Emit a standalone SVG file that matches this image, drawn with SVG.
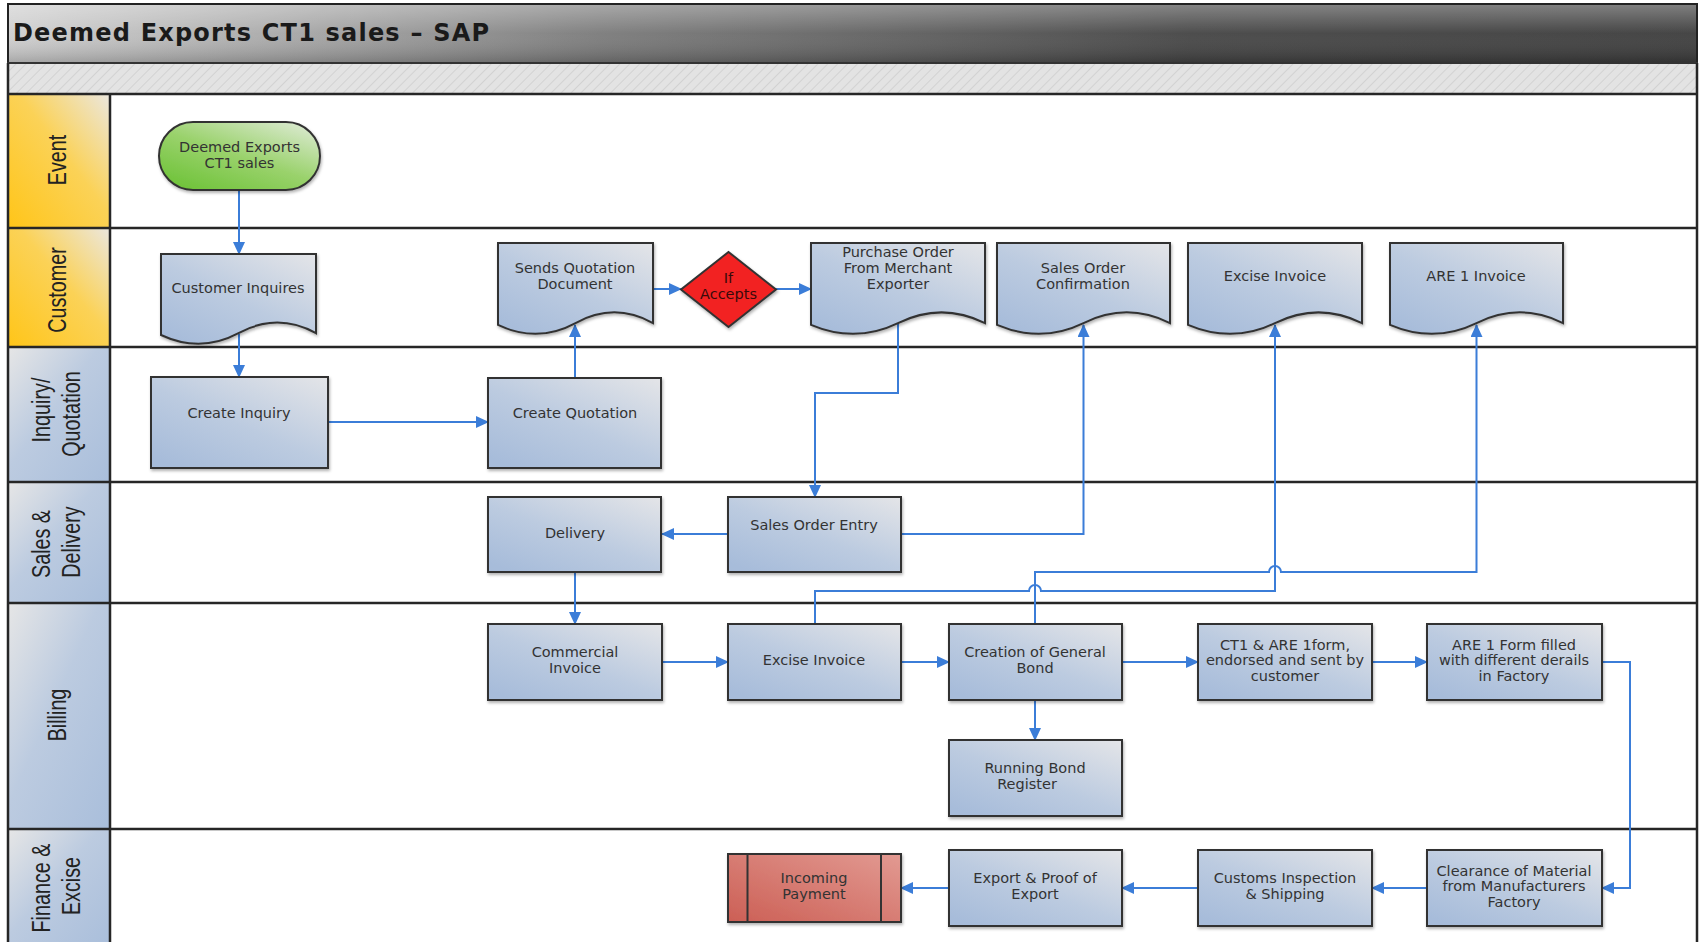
<svg xmlns="http://www.w3.org/2000/svg" width="1700" height="942" viewBox="0 0 1700 942">
<defs>
<linearGradient id="gTitleH" x1="0" y1="0" x2="1" y2="0">
<stop offset="0" stop-color="#cfcfcf"/>
<stop offset="0.35" stop-color="#7a7a7a"/>
<stop offset="0.7" stop-color="#444"/>
<stop offset="1" stop-color="#3c3c3c"/>
</linearGradient>
<linearGradient id="gTitleV" x1="0" y1="0" x2="0" y2="1">
<stop offset="0" stop-color="#fff" stop-opacity="0.35"/>
<stop offset="0.5" stop-color="#fff" stop-opacity="0.05"/>
<stop offset="1" stop-color="#000" stop-opacity="0.2"/>
</linearGradient>
<pattern id="hatch" width="7" height="7" patternUnits="userSpaceOnUse" patternTransform="rotate(45)">
<rect width="7" height="7" fill="#e3e3e3"/>
<line x1="0" y1="0" x2="0" y2="7" stroke="#d2d2d2" stroke-width="2"/>
</pattern>
<linearGradient id="gYel" x1="0" y1="1" x2="1" y2="0">
<stop offset="0" stop-color="#ffc518"/>
<stop offset="0.55" stop-color="#fbd257"/>
<stop offset="1" stop-color="#ebe7df"/>
</linearGradient>
<linearGradient id="gBlueHdr" x1="0" y1="0" x2="1" y2="1">
<stop offset="0" stop-color="#e6e6e6"/>
<stop offset="0.45" stop-color="#bccbe0"/>
<stop offset="1" stop-color="#a9bedb"/>
</linearGradient>
<linearGradient id="gBox" x1="1" y1="0" x2="0.15" y2="1">
<stop offset="0" stop-color="#e4e5e8"/>
<stop offset="0.55" stop-color="#bccbe0"/>
<stop offset="1" stop-color="#a7bcda"/>
</linearGradient>
<linearGradient id="gGreen" x1="0.1" y1="1" x2="0.9" y2="0">
<stop offset="0" stop-color="#6cc236"/>
<stop offset="0.5" stop-color="#9ad26c"/>
<stop offset="1" stop-color="#dcead2"/>
</linearGradient>
<linearGradient id="gRed" x1="0" y1="1" x2="1" y2="0">
<stop offset="0" stop-color="#cc5f55"/>
<stop offset="1" stop-color="#e29a92"/>
</linearGradient>
<filter id="sh" x="-10%" y="-10%" width="120%" height="130%">
<feDropShadow dx="1" dy="2" stdDeviation="1.5" flood-color="#000" flood-opacity="0.3"/>
</filter>
<marker id="arr" markerUnits="userSpaceOnUse" markerWidth="13" markerHeight="12" refX="12" refY="6" orient="auto">
<path d="M0,0 L13,6 L0,12 Z" fill="#3b7dd8"/>
</marker>
<style>
.lane{stroke:#262626;stroke-width:2.5;fill:none}
.box{fill:url(#gBox);stroke:#333;stroke-width:2;filter:url(#sh)}
.t{font-family:"DejaVu Sans","Liberation Sans",sans-serif;font-size:14.5px;fill:#333;text-anchor:middle}
.h{font-family:"Liberation Sans",Arial,sans-serif;font-size:26px;fill:#222;text-anchor:middle}
.c{stroke:#3b7dd8;stroke-width:2;fill:none;marker-end:url(#arr)}
</style>
</defs>

<rect x="0" y="0" width="1700" height="942" fill="#fff"/>

<g id="title">
<rect x="8" y="4" width="1689" height="59" fill="url(#gTitleH)"/>
<rect x="8" y="4" width="1689" height="59" fill="url(#gTitleV)" stroke="#222" stroke-width="2"/>
<text x="13" y="41" font-family="'DejaVu Sans','Liberation Sans',sans-serif" font-weight="bold" font-size="24" fill="#1a1a1a" textLength="476" lengthAdjust="spacing">Deemed Exports CT1 sales – SAP</text>
<rect x="8" y="63" width="1689" height="31" fill="url(#hatch)" stroke="#333" stroke-width="2"/>
</g>

<g id="lanes">
<rect x="8" y="94" width="102" height="134" fill="url(#gYel)"/>
<rect x="8" y="228" width="102" height="119" fill="url(#gYel)"/>
<rect x="8" y="347" width="102" height="135" fill="url(#gBlueHdr)"/>
<rect x="8" y="482" width="102" height="121" fill="url(#gBlueHdr)"/>
<rect x="8" y="603" width="102" height="226" fill="url(#gBlueHdr)"/>
<rect x="8" y="829" width="102" height="120" fill="url(#gBlueHdr)"/>
<path class="lane" d="M8,94 H1697 M8,228 H1697 M8,347 H1697 M8,482 H1697 M8,603 H1697 M8,829 H1697 M8,63 V950 M110,94 V950 M1697,63 V950"/>
<text class="h" transform="translate(66,160) rotate(-90) scale(0.76,1)">Event</text>
<text class="h" transform="translate(66,290) rotate(-90) scale(0.76,1)">Customer</text>
<text class="h" transform="translate(50,410) rotate(-90) scale(0.76,1)">Inquiry/</text>
<text class="h" transform="translate(80,414) rotate(-90) scale(0.76,1)">Quotation</text>
<text class="h" transform="translate(50,544) rotate(-90) scale(0.76,1)">Sales &amp;</text>
<text class="h" transform="translate(80,542) rotate(-90) scale(0.76,1)">Delivery</text>
<text class="h" transform="translate(66,715) rotate(-90) scale(0.76,1)">Billing</text>
<text class="h" transform="translate(50,888) rotate(-90) scale(0.76,1)">Finance &amp;</text>
<text class="h" transform="translate(80,886) rotate(-90) scale(0.76,1)">Excise</text>
</g>

<g id="connectors">
<path class="c" d="M239,190 V254"/>
<path class="c" d="M239,334 V377"/>
<path class="c" d="M328,422 H488"/>
<path class="c" d="M575,378 V325"/>
<path class="c" d="M653,289 H681"/>
<path class="c" d="M776,289 H811"/>
<path class="c" d="M898,323 V393 H815 V497"/>
<path class="c" d="M728,534 H662"/>
<path class="c" d="M901,534 H1083.5 V325"/>
<path class="c" d="M575,572 V624"/>
<path class="c" d="M662,662 H728"/>
<path class="c" d="M901,662 H949"/>
<path class="c" d="M1122,662 H1198"/>
<path class="c" d="M1372,662 H1427"/>
<path class="c" d="M1035,700 V740"/>
<path class="c" d="M815,624 V591 H1029 A6,6 0 0 1 1041,591 H1275 V325"/>
<path class="c" d="M1035,624 V572 H1269 A6,6 0 0 1 1281,572 H1476.5 V325"/>
<path class="c" d="M1602,662 H1630 V888 H1602"/>
<path class="c" d="M1427,888 H1372"/>
<path class="c" d="M1198,888 H1122"/>
<path class="c" d="M949,888 H901"/>
</g>

<g id="n-start">
<rect x="159" y="122" width="161" height="68" rx="34" fill="url(#gGreen)" stroke="#333" stroke-width="2" filter="url(#sh)"/>
<text class="t" x="239.5" y="152">Deemed Exports</text>
<text class="t" x="239.5" y="168">CT1 sales</text>
</g>

<g id="n-customer-inquires">
<path class="box" d="M161,254 H316 V333.2 C289.7,318.8 264.9,318.8 238.5,333.2 C212.2,347.3 187.4,347.3 161,335 Z"/>
<text class="t" x="238" y="293">Customer Inquires</text>
</g>

<g id="n-create-inquiry">
<rect class="box" x="151" y="377" width="177" height="91"/>
<text class="t" x="239" y="418">Create Inquiry</text>
</g>

<g id="n-create-quotation">
<rect class="box" x="488" y="378" width="173" height="90"/>
<text class="t" x="575" y="418">Create Quotation</text>
</g>

<g id="n-sends-quotation">
<path class="box" d="M498,243 H653 V323.1 C626.7,308.5 601.9,308.5 575.5,323.1 C549.2,337.4 524.4,337.4 498,324.9 Z"/>
<text class="t" x="575" y="273">Sends Quotation</text>
<text class="t" x="575" y="289">Document</text>
</g>

<g id="n-if-accepts">
<polygon points="728.5,252 776,289.5 728.5,327 681,289.5" fill="#f22424" stroke="#333" stroke-width="2" filter="url(#sh)"/>
<text class="t" x="728.5" y="283" style="fill:#3a0a0a">If</text>
<text class="t" x="728.5" y="299" style="fill:#3a0a0a">Accepts</text>
</g>

<g id="n-purchase-order">
<path class="box" d="M811,243 H985 V323.1 C955.4,308.5 927.6,308.5 898,323.1 C868.4,337.4 840.6,337.4 811,324.9 Z"/>
<text class="t" x="898" y="257">Purchase Order</text>
<text class="t" x="898" y="273">From Merchant</text>
<text class="t" x="898" y="289">Exporter</text>
</g>

<g id="n-sales-order-confirmation">
<path class="box" d="M997,243 H1170 V323.1 C1140.6,308.5 1112.9,308.5 1083.5,323.1 C1054.1,337.4 1026.4,337.4 997,324.9 Z"/>
<text class="t" x="1083" y="273">Sales Order</text>
<text class="t" x="1083" y="289">Confirmation</text>
</g>

<g id="n-excise-invoice-doc">
<path class="box" d="M1188,243 H1362 V323.1 C1332.4,308.5 1304.6,308.5 1275,323.1 C1245.4,337.4 1217.6,337.4 1188,324.9 Z"/>
<text class="t" x="1275" y="281">Excise Invoice</text>
</g>

<g id="n-are1-invoice">
<path class="box" d="M1390,243 H1563 V323.1 C1533.6,308.5 1505.9,308.5 1476.5,323.1 C1447.1,337.4 1419.4,337.4 1390,324.9 Z"/>
<text class="t" x="1476" y="281">ARE 1 Invoice</text>
</g>

<g id="n-delivery">
<rect class="box" x="488" y="497" width="173" height="75"/>
<text class="t" x="575" y="538">Delivery</text>
</g>

<g id="n-sales-order-entry">
<rect class="box" x="728" y="497" width="173" height="75"/>
<text class="t" x="814" y="530">Sales Order Entry</text>
</g>

<g id="n-commercial-invoice">
<rect class="box" x="488" y="624" width="174" height="76"/>
<text class="t" x="575" y="657">Commercial</text>
<text class="t" x="575" y="673">Invoice</text>
</g>

<g id="n-excise-invoice">
<rect class="box" x="728" y="624" width="173" height="76"/>
<text class="t" x="814" y="665">Excise Invoice</text>
</g>

<g id="n-general-bond">
<rect class="box" x="949" y="624" width="173" height="76"/>
<text class="t" x="1035" y="657">Creation of General</text>
<text class="t" x="1035" y="673">Bond</text>
</g>

<g id="n-ct1-are1">
<rect class="box" x="1198" y="624" width="174" height="76"/>
<text class="t" x="1285" y="650">CT1 &amp; ARE 1form,</text>
<text class="t" x="1285" y="665">endorsed and sent by</text>
<text class="t" x="1285" y="681">customer</text>
</g>

<g id="n-are1-form">
<rect class="box" x="1427" y="624" width="175" height="76"/>
<text class="t" x="1514" y="650">ARE 1 Form filled</text>
<text class="t" x="1514" y="665">with different derails</text>
<text class="t" x="1514" y="681">in Factory</text>
</g>

<g id="n-running-bond">
<rect class="box" x="949" y="740" width="173" height="76"/>
<text class="t" x="1035" y="773">Running Bond</text>
<text class="t" x="1027" y="789">Register</text>
</g>

<g id="n-incoming-payment">
<rect x="728" y="854" width="173" height="68" fill="url(#gRed)" stroke="#333" stroke-width="2" filter="url(#sh)"/>
<path d="M747.5,854 V922 M881,854 V922" stroke="#333" stroke-width="2"/>
<text class="t" x="814" y="883">Incoming</text>
<text class="t" x="814" y="899">Payment</text>
</g>

<g id="n-export-proof">
<rect class="box" x="949" y="850" width="173" height="76"/>
<text class="t" x="1035" y="883">Export &amp; Proof of</text>
<text class="t" x="1035" y="899">Export</text>
</g>

<g id="n-customs">
<rect class="box" x="1198" y="850" width="174" height="76"/>
<text class="t" x="1285" y="883">Customs Inspection</text>
<text class="t" x="1285" y="899">&amp; Shipping</text>
</g>

<g id="n-clearance">
<rect class="box" x="1427" y="850" width="175" height="76"/>
<text class="t" x="1514" y="876">Clearance of Material</text>
<text class="t" x="1514" y="891">from Manufacturers</text>
<text class="t" x="1514" y="907">Factory</text>
</g>
</svg>
